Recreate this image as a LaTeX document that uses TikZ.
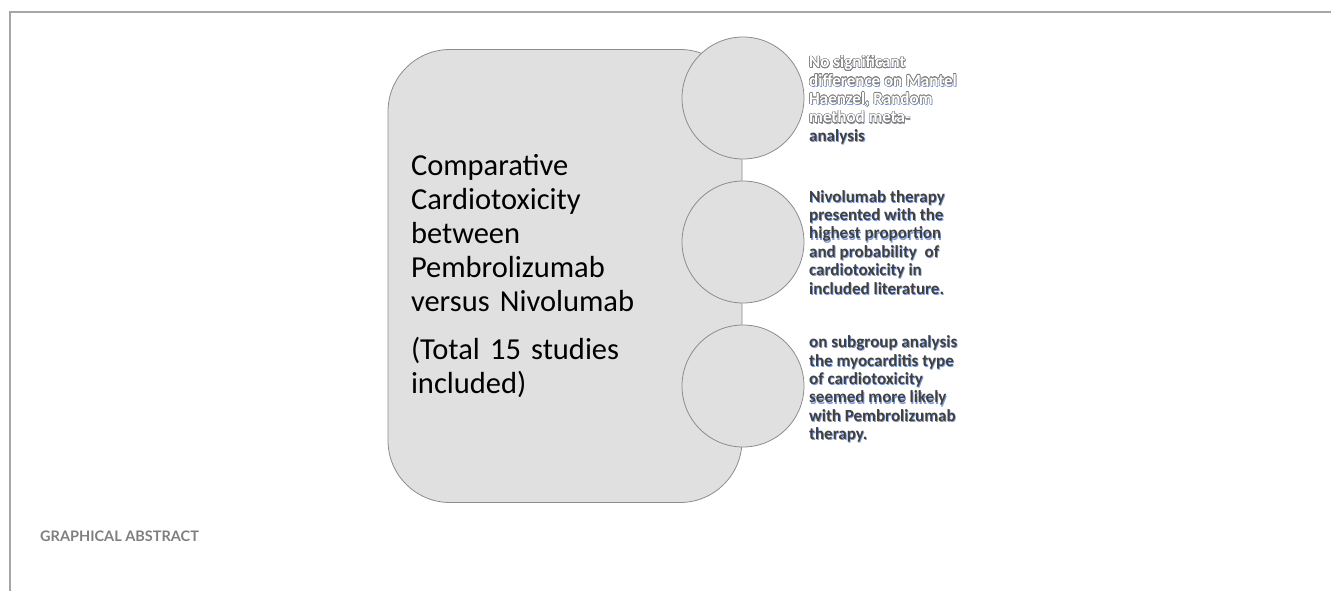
\documentclass[tikz,border=0pt]{standalone}
\usepackage{fontspec}
\setmainfont{Carlito}
\newfontfamily\tagfont{Lato}
\usepackage{contour}
\contourlength{0.5pt}
\definecolor{framegray}{HTML}{A6A6A6}
\definecolor{edgegray}{HTML}{8C8C8C}
\definecolor{panelgray}{HTML}{E0E0E0}
\definecolor{notegray}{HTML}{404040}
\definecolor{outgray}{HTML}{7F7F7F}
\definecolor{glowblue}{HTML}{7F9CDA}
\definecolor{taggray}{HTML}{7F7F7F}
\newcommand{\hollow}[1]{\contour{outgray}{\textcolor{white}{#1}}}
\tikzset{panel/.style = {draw=edgegray, fill=panelgray, line width=0.8pt, rounded corners=62pt,
    minimum width=354pt, minimum height=453pt, text width=308pt, inner xsep=23pt,
    align=left, font=\fontsize{30.5}{34}\selectfont}}
\tikzset{bubble/.style = {circle, draw=edgegray, fill=panelgray, line width=0.8pt, minimum size=122pt}}
\tikzset{note/.style = {anchor=north west, align=left, inner sep=0pt,
    font=\fontsize{17}{18.4}\selectfont\bfseries, text=notegray}}
\tikzset{glow/.style = {note, text=glowblue, font=\fontsize{17}{18.4}\selectfont\bfseries\let\hollow\relax}}

\begin{document}
\begin{tikzpicture}[x=1pt, y=-1pt]
                \useasboundingbox (0,0) rectangle (1331,591);
                \draw[framegray, line width=2pt] (10,591) -- (10,12) -- (1331,12);
                \node[panel] (main) at (565,276) {Comparative\\ Cardiotoxicity\\ between\\ Pembrolizumab\\ versus Nivolumab\\[14pt] (Total 15 studies\\ included)};
                \node[bubble] (c1) at (743,98) {};
                \node[bubble] (c2) at (743,242) {};
                \node[bubble] (c3) at (743,386) {};
                % findings, with a blue glow behind each
                \node[glow] (g1) at (809.8,56.7) {\hollow{No significant}\\ \hollow{difference on Mantel}\\ \hollow{Haenzel, Random}\\ \hollow{method meta-}\\ analysis};
                \node[note] (n1) at (809,55.5) {\hollow{No significant}\\ \hollow{difference on Mantel}\\ \hollow{Haenzel, Random}\\ \hollow{method meta-}\\ analysis};
                \node[glow] (g2) at (809.8,191.2) {Nivolumab therapy\\ presented with the\\ highest proportion\\ and probability ~of\\ cardiotoxicity in\\ included literature.};
                \node[note] (n2) at (809,190) {Nivolumab therapy\\ presented with the\\ highest proportion\\ and probability ~of\\ cardiotoxicity in\\ included literature.};
                \node[glow] (g3) at (809.8,336.7) {on subgroup analysis\\ the myocarditis type\\ of cardiotoxicity\\ seemed more likely\\ with Pembrolizumab\\ therapy.};
                \node[note] (n3) at (809,335.5) {on subgroup analysis\\ the myocarditis type\\ of cardiotoxicity\\ seemed more likely\\ with Pembrolizumab\\ therapy.};
                \node[anchor=west, inner sep=0pt, text=taggray, font=\tagfont\bfseries\fontsize{14.5}{16}\selectfont] (tag) at (40,536) {GRAPHICAL ABSTRACT};
\end{tikzpicture}
\end{document}
